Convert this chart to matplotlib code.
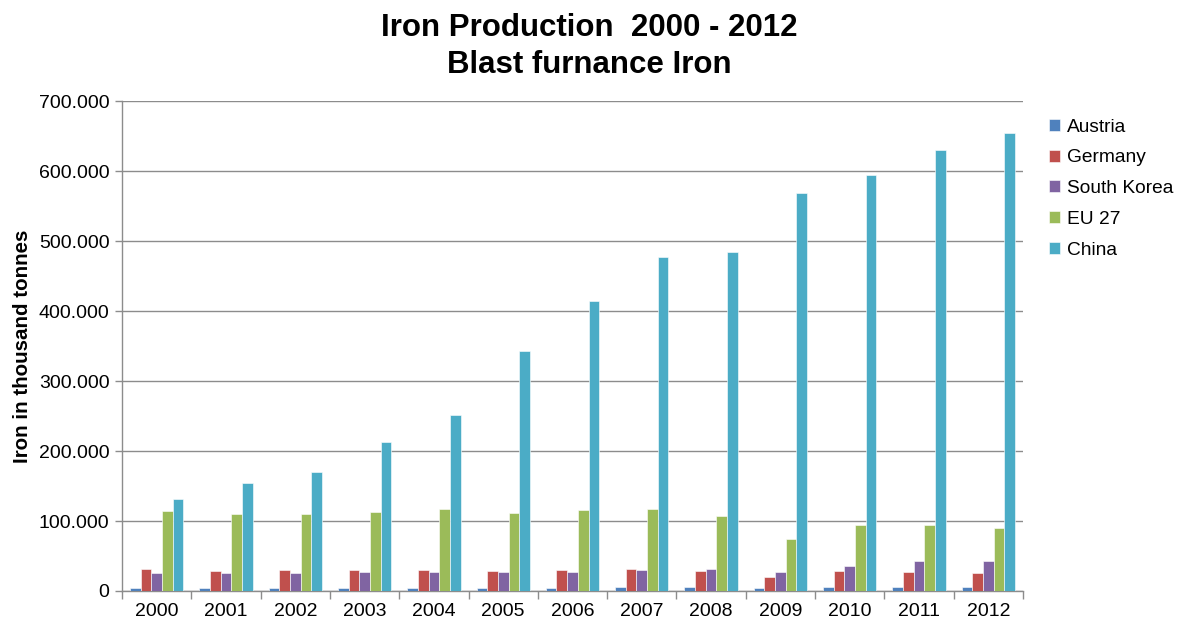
import numpy as np
import matplotlib
matplotlib.use("Agg")
from matplotlib import pyplot as plt
from matplotlib.ticker import FuncFormatter, FixedLocator

plt.rcParams['font.family'] = ['Liberation Sans', 'DejaVu Sans']

# Blast furnace iron output, thousand tonnes
years = [str(y) for y in range(2000, 2013)]
austria = [4300, 4300, 4800, 4800, 4800, 4800, 4800, 5800, 5800, 4300, 5800, 5800, 5800]
germany = [31400, 29000, 30000, 30000, 30000, 29000, 30000, 31400, 29000, 20400, 29000, 27600, 26100]
south_korea = [25200, 26100, 26100, 27600, 27600, 27600, 27600, 30000, 31400, 27600, 35700, 42400, 42400]
eu27 = [114300, 109400, 109400, 112800, 116600, 111900, 115200, 116600, 106600, 73800, 93800, 93800, 90000]
china = [131900, 154700, 170400, 212300, 250900, 342900, 413700, 476600, 483700, 569000, 595100, 630000, 653700]

series = ["Austria", "Germany", "South Korea", "EU 27", "China"]
colors = ["#4F81BD", "#C0504D", "#8064A2", "#9BBB59", "#4BACC6"]

fig = plt.figure(figsize=(11.78, 6.24), dpi=100)
ax = fig.add_axes([0.1036, 0.0529, 0.7648, 0.7851])

x = np.arange(len(years))
width = 0.154
for i, (vals, name, col) in enumerate(zip([austria, germany, south_korea, eu27, china], series, colors)):
    ax.bar(x + (i - 2) * width, vals, width, color=col, label=name,
           edgecolor="white", linewidth=0.4, zorder=3)

ax.set_xlim(-0.5, len(years) - 0.5)
ax.set_ylim(0, 700000)
ax.set_yticks(np.arange(0, 700001, 100000))
ax.yaxis.set_major_formatter(FuncFormatter(lambda v, p: f"{int(v):,}".replace(",", ".")))
ax.grid(axis="y", color="#8c8c8c", linewidth=1.0, zorder=0)

ax.set_xticks(x)
ax.set_xticklabels(years)
ax.xaxis.set_minor_locator(FixedLocator(np.arange(-0.5, len(years), 1.0)))
ax.tick_params(axis="x", which="major", length=0, pad=9, labelsize=14)
ax.tick_params(axis="x", which="minor", length=6, color="#8c8c8c", width=1.0)
ax.tick_params(axis="y", length=5, color="#8c8c8c", width=1.0, labelsize=14, pad=4)

for s in ["top", "right"]:
    ax.spines[s].set_visible(False)
for s in ["left", "bottom"]:
    ax.spines[s].set_color("#8c8c8c")
    ax.spines[s].set_linewidth(1.0)

ax.set_ylabel("Iron in thousand tonnes", fontsize=14.8, fontweight="bold", labelpad=5)

fig.text(0.5, 0.955, "Iron Production  2000 - 2012", ha="center", va="center",
         fontsize=22.5, fontweight="bold")
fig.text(0.5, 0.896, "Blast furnance Iron", ha="center", va="center",
         fontsize=22.5, fontweight="bold")

ax.legend(loc="upper left", bbox_to_anchor=(1.02, 0.98), frameon=False,
          fontsize=13.8, handlelength=0.6, handleheight=0.6, handletextpad=0.35,
          labelspacing=0.72, borderaxespad=0)

fig.savefig("out.png", dpi=100)
